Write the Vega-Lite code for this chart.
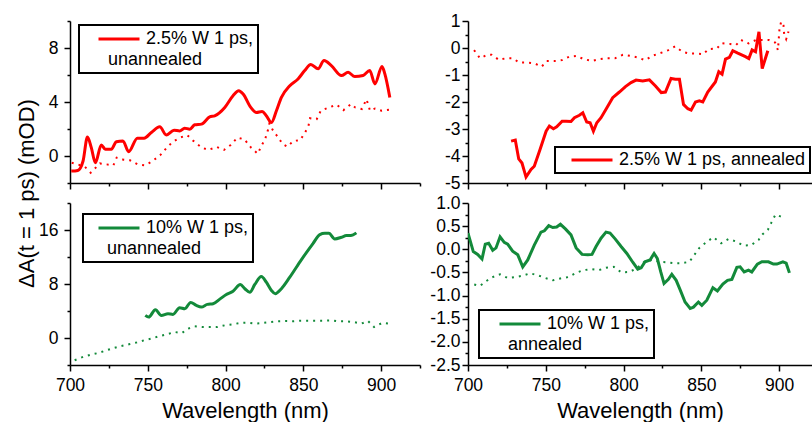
{
"$schema": "https://vega.github.io/schema/vega-lite/v6.json",
"padding": {"left": 15, "top": 12, "right": 0, "bottom": 0},
"columns": 2,
"spacing": {"row": 20, "column": 48},
"bounds": "flush",
"config": {
"view": {"stroke": null},
"font": "Liberation Sans",
"axis": {"domainColor": "black", "domainWidth": 1.5, "tickColor": "black", "tickWidth": 1.5, "labelColor": "black", "labelFontSize": 17.5, "labelFont": "Liberation Sans", "grid": false, "titleColor": "black", "titleFontWeight": "normal", "titleFontSize": 22, "titleFont": "Liberation Sans", "labelOverlap": false, "labelFlush": false, "labelBound": false},
"legend": {"orient": "none", "padding": 4, "strokeColor": "black", "strokeWidth": 2, "fillColor": "white", "labelFontSize": 18, "labelColor": "black", "labelFont": "Liberation Sans", "symbolType": "stroke", "symbolSize": 1681, "symbolStrokeWidth": 3, "clipHeight": 20, "labelLimit": 400, "titleOrient": "bottom", "titleAnchor": "start", "titleFontSize": 18, "titleFontWeight": "normal", "titleColor": "black", "titleFont": "Liberation Sans", "titlePadding": 2, "titleLimit": 400}
},
"resolve": {"scale": {"color": "independent"}, "legend": {"color": "independent"}},
"datasets": {
"tl_solid": [
{"wl":700.8,"v":-1.12,"s":"2.5% W 1 ps,"},{"wl":705,"v":-1.07,"s":"2.5% W 1 ps,"},{"wl":708.4,"v":-0.37,"s":"2.5% W 1 ps,"},{"wl":711.2,"v":1.41,"s":"2.5% W 1 ps,"},{"wl":713.7,"v":0.62,"s":"2.5% W 1 ps,"},{"wl":716.3,"v":-0.5,"s":"2.5% W 1 ps,"},{"wl":720.1,"v":0.82,"s":"2.5% W 1 ps,"},{"wl":722.7,"v":0.5,"s":"2.5% W 1 ps,"},{"wl":726.6,"v":0.5,"s":"2.5% W 1 ps,"},{"wl":729.8,"v":1.06,"s":"2.5% W 1 ps,"},{"wl":734,"v":1.12,"s":"2.5% W 1 ps,"},{"wl":737.7,"v":0.32,"s":"2.5% W 1 ps,"},{"wl":743.3,"v":1.32,"s":"2.5% W 1 ps,"},{"wl":747.6,"v":1.32,"s":"2.5% W 1 ps,"},{"wl":752.3,"v":1.74,"s":"2.5% W 1 ps,"},{"wl":757.7,"v":2.16,"s":"2.5% W 1 ps,"},{"wl":761.9,"v":1.56,"s":"2.5% W 1 ps,"},{"wl":766.9,"v":1.91,"s":"2.5% W 1 ps,"},{"wl":770.5,"v":1.86,"s":"2.5% W 1 ps,"},{"wl":773.7,"v":2.06,"s":"2.5% W 1 ps,"},{"wl":777,"v":1.99,"s":"2.5% W 1 ps,"},{"wl":780.2,"v":2.31,"s":"2.5% W 1 ps,"},{"wl":784.5,"v":2.36,"s":"2.5% W 1 ps,"},{"wl":789.8,"v":2.9,"s":"2.5% W 1 ps,"},{"wl":793,"v":2.98,"s":"2.5% W 1 ps,"},{"wl":799.5,"v":3.6,"s":"2.5% W 1 ps,"},{"wl":804.8,"v":4.47,"s":"2.5% W 1 ps,"},{"wl":808.5,"v":4.84,"s":"2.5% W 1 ps,"},{"wl":811.3,"v":4.59,"s":"2.5% W 1 ps,"},{"wl":816.2,"v":3.6,"s":"2.5% W 1 ps,"},{"wl":819.8,"v":3.23,"s":"2.5% W 1 ps,"},{"wl":823.5,"v":3.3,"s":"2.5% W 1 ps,"},{"wl":826.2,"v":2.98,"s":"2.5% W 1 ps,"},{"wl":829.5,"v":2.48,"s":"2.5% W 1 ps,"},{"wl":832.7,"v":3.35,"s":"2.5% W 1 ps,"},{"wl":835.9,"v":4.34,"s":"2.5% W 1 ps,"},{"wl":841.3,"v":5.21,"s":"2.5% W 1 ps,"},{"wl":846.6,"v":5.71,"s":"2.5% W 1 ps,"},{"wl":850.9,"v":6.33,"s":"2.5% W 1 ps,"},{"wl":854.8,"v":6.78,"s":"2.5% W 1 ps,"},{"wl":859.5,"v":6.46,"s":"2.5% W 1 ps,"},{"wl":863.3,"v":7.07,"s":"2.5% W 1 ps,"},{"wl":868,"v":6.7,"s":"2.5% W 1 ps,"},{"wl":874.5,"v":5.96,"s":"2.5% W 1 ps,"},{"wl":878.8,"v":6.2,"s":"2.5% W 1 ps,"},{"wl":883.1,"v":5.88,"s":"2.5% W 1 ps,"},{"wl":888.4,"v":5.96,"s":"2.5% W 1 ps,"},{"wl":892.7,"v":6.33,"s":"2.5% W 1 ps,"},{"wl":896,"v":5.34,"s":"2.5% W 1 ps,"},{"wl":900.6,"v":6.63,"s":"2.5% W 1 ps,"},{"wl":902.4,"v":6.08,"s":"2.5% W 1 ps,"},{"wl":905.6,"v":4.34,"s":"2.5% W 1 ps,"}
],
"tl_dot": [
{"wl":701.1,"v":-0.5},{"wl":705,"v":-0.62},{"wl":709.6,"v":-0.8},{"wl":713.3,"v":-1.24},{"wl":719.3,"v":-0.55},{"wl":723.6,"v":-0.62},{"wl":727.9,"v":-0.69},{"wl":730,"v":-0.12},{"wl":734.3,"v":-0.27},{"wl":738.6,"v":-0.32},{"wl":743.5,"v":-0.62},{"wl":748.2,"v":-0.69},{"wl":752.5,"v":-0.42},{"wl":757.9,"v":0.05},{"wl":762.2,"v":0.62},{"wl":766,"v":1.04},{"wl":770.7,"v":1.36},{"wl":775.4,"v":1.54},{"wl":779.3,"v":1.12},{"wl":784.7,"v":0.62},{"wl":788.9,"v":0.45},{"wl":794.3,"v":0.67},{"wl":799,"v":0.45},{"wl":803.3,"v":0.82},{"wl":807.6,"v":1.36},{"wl":812.1,"v":1.24},{"wl":816.4,"v":0.62},{"wl":820.7,"v":0.17},{"wl":822.8,"v":0.69},{"wl":825.4,"v":1.24},{"wl":827.1,"v":1.86},{"wl":828.2,"v":2.41},{"wl":830.4,"v":1.91},{"wl":833.9,"v":1.36},{"wl":836.8,"v":0.87},{"wl":839.7,"v":0.69},{"wl":843.6,"v":1.12},{"wl":847.9,"v":1.17},{"wl":851.1,"v":1.74},{"wl":853.3,"v":2.23},{"wl":854.3,"v":2.8},{"wl":858.6,"v":2.73},{"wl":861.2,"v":3.35},{"wl":866.6,"v":3.6},{"wl":871.5,"v":3.8},{"wl":875.8,"v":3.4},{"wl":880.7,"v":3.85},{"wl":883.3,"v":3.6},{"wl":887.6,"v":3.48},{"wl":890.6,"v":4.2},{"wl":892.9,"v":3.35},{"wl":896.1,"v":3.52},{"wl":900.4,"v":3.35},{"wl":905.3,"v":3.43}
],
"tr_solid": [
{"wl":727.7,"v":-3.45,"s":"2.5% W 1 ps, annealed"},{"wl":730.4,"v":-3.41,"s":"2.5% W 1 ps, annealed"},{"wl":732.6,"v":-4.11,"s":"2.5% W 1 ps, annealed"},{"wl":734.7,"v":-4.26,"s":"2.5% W 1 ps, annealed"},{"wl":737.3,"v":-4.78,"s":"2.5% W 1 ps, annealed"},{"wl":740.5,"v":-4.5,"s":"2.5% W 1 ps, annealed"},{"wl":742.6,"v":-4.38,"s":"2.5% W 1 ps, annealed"},{"wl":746.3,"v":-3.76,"s":"2.5% W 1 ps, annealed"},{"wl":750.2,"v":-3.08,"s":"2.5% W 1 ps, annealed"},{"wl":752.3,"v":-2.89,"s":"2.5% W 1 ps, annealed"},{"wl":754.9,"v":-2.99,"s":"2.5% W 1 ps, annealed"},{"wl":757,"v":-2.92,"s":"2.5% W 1 ps, annealed"},{"wl":760.5,"v":-2.71,"s":"2.5% W 1 ps, annealed"},{"wl":763,"v":-2.71,"s":"2.5% W 1 ps, annealed"},{"wl":766.2,"v":-2.72,"s":"2.5% W 1 ps, annealed"},{"wl":768.4,"v":-2.58,"s":"2.5% W 1 ps, annealed"},{"wl":771.6,"v":-2.49,"s":"2.5% W 1 ps, annealed"},{"wl":773.8,"v":-2.4,"s":"2.5% W 1 ps, annealed"},{"wl":776.3,"v":-2.74,"s":"2.5% W 1 ps, annealed"},{"wl":778.5,"v":-2.77,"s":"2.5% W 1 ps, annealed"},{"wl":780.6,"v":-3.08,"s":"2.5% W 1 ps, annealed"},{"wl":782.8,"v":-2.77,"s":"2.5% W 1 ps, annealed"},{"wl":785.5,"v":-2.58,"s":"2.5% W 1 ps, annealed"},{"wl":788.7,"v":-2.27,"s":"2.5% W 1 ps, annealed"},{"wl":793,"v":-1.84,"s":"2.5% W 1 ps, annealed"},{"wl":797.3,"v":-1.63,"s":"2.5% W 1 ps, annealed"},{"wl":801.2,"v":-1.43,"s":"2.5% W 1 ps, annealed"},{"wl":804.8,"v":-1.28,"s":"2.5% W 1 ps, annealed"},{"wl":808,"v":-1.19,"s":"2.5% W 1 ps, annealed"},{"wl":812.3,"v":-1.22,"s":"2.5% W 1 ps, annealed"},{"wl":816.6,"v":-1.18,"s":"2.5% W 1 ps, annealed"},{"wl":820.5,"v":-1.41,"s":"2.5% W 1 ps, annealed"},{"wl":824.2,"v":-1.65,"s":"2.5% W 1 ps, annealed"},{"wl":826.9,"v":-1.63,"s":"2.5% W 1 ps, annealed"},{"wl":830.5,"v":-1.13,"s":"2.5% W 1 ps, annealed"},{"wl":833.3,"v":-1.16,"s":"2.5% W 1 ps, annealed"},{"wl":835.9,"v":-1.16,"s":"2.5% W 1 ps, annealed"},{"wl":838.5,"v":-2.09,"s":"2.5% W 1 ps, annealed"},{"wl":841.3,"v":-2.25,"s":"2.5% W 1 ps, annealed"},{"wl":843.4,"v":-2.3,"s":"2.5% W 1 ps, annealed"},{"wl":846.2,"v":-2.0,"s":"2.5% W 1 ps, annealed"},{"wl":848.7,"v":-1.96,"s":"2.5% W 1 ps, annealed"},{"wl":850.9,"v":-2.0,"s":"2.5% W 1 ps, annealed"},{"wl":854.1,"v":-1.63,"s":"2.5% W 1 ps, annealed"},{"wl":857.4,"v":-1.38,"s":"2.5% W 1 ps, annealed"},{"wl":859,"v":-1.26,"s":"2.5% W 1 ps, annealed"},{"wl":861.2,"v":-0.88,"s":"2.5% W 1 ps, annealed"},{"wl":863.3,"v":-0.97,"s":"2.5% W 1 ps, annealed"},{"wl":865.5,"v":-0.41,"s":"2.5% W 1 ps, annealed"},{"wl":868,"v":-0.35,"s":"2.5% W 1 ps, annealed"},{"wl":870.2,"v":-0.1,"s":"2.5% W 1 ps, annealed"},{"wl":873.4,"v":-0.19,"s":"2.5% W 1 ps, annealed"},{"wl":878.3,"v":-0.32,"s":"2.5% W 1 ps, annealed"},{"wl":880.5,"v":-0.39,"s":"2.5% W 1 ps, annealed"},{"wl":882.6,"v":-0.07,"s":"2.5% W 1 ps, annealed"},{"wl":884.8,"v":-0.14,"s":"2.5% W 1 ps, annealed"},{"wl":887,"v":0.6,"s":"2.5% W 1 ps, annealed"},{"wl":889.1,"v":-0.76,"s":"2.5% W 1 ps, annealed"},{"wl":892.7,"v":-0.1,"s":"2.5% W 1 ps, annealed"}
],
"tr_dot": [
{"wl":703.9,"v":-0.08},{"wl":707.7,"v":-0.38},{"wl":712.4,"v":-0.25},{"wl":715.2,"v":-0.25},{"wl":719.9,"v":-0.44},{"wl":724.4,"v":-0.38},{"wl":728.7,"v":-0.38},{"wl":733,"v":-0.54},{"wl":737.7,"v":-0.54},{"wl":742.4,"v":-0.56},{"wl":747.4,"v":-0.69},{"wl":750.6,"v":-0.48},{"wl":755.9,"v":-0.48},{"wl":760.3,"v":-0.45},{"wl":765.1,"v":-0.32},{"wl":769.9,"v":-0.29},{"wl":774.2,"v":-0.41},{"wl":779.5,"v":-0.48},{"wl":784.9,"v":-0.41},{"wl":789.2,"v":-0.38},{"wl":794.5,"v":-0.38},{"wl":799.5,"v":-0.25},{"wl":804.2,"v":-0.29},{"wl":808.9,"v":-0.35},{"wl":813.8,"v":-0.45},{"wl":818.5,"v":-0.29},{"wl":823.5,"v":-0.19},{"wl":828.8,"v":-0.08},{"wl":833.1,"v":0.06},{"wl":837.8,"v":-0.14},{"wl":842.1,"v":-0.2},{"wl":846.4,"v":-0.2},{"wl":851.3,"v":-0.23},{"wl":854.5,"v":-0.04},{"wl":859.9,"v":-0.02},{"wl":863.1,"v":0.18},{"wl":868.5,"v":0.15},{"wl":872.3,"v":0.11},{"wl":875.4,"v":0.3},{"wl":880.3,"v":0.17},{"wl":885.2,"v":0.3},{"wl":888.9,"v":0.3},{"wl":893.2,"v":0.3},{"wl":897.4,"v":0.2},{"wl":899.2,"v":-0.08},{"wl":900.2,"v":0.7},{"wl":901.3,"v":0.98},{"wl":902.8,"v":0.83},{"wl":903.2,"v":0.52},{"wl":904.5,"v":0.33},{"wl":906,"v":0.61}
],
"bl_solid": [
{"wl":748.4,"v":3.35,"s":"10% W 1 ps,"},{"wl":750.6,"v":3.1,"s":"10% W 1 ps,"},{"wl":754.9,"v":4.19,"s":"10% W 1 ps,"},{"wl":758.7,"v":3.35,"s":"10% W 1 ps,"},{"wl":763,"v":3.6,"s":"10% W 1 ps,"},{"wl":766.2,"v":3.5,"s":"10% W 1 ps,"},{"wl":770.5,"v":4.49,"s":"10% W 1 ps,"},{"wl":773.8,"v":4.34,"s":"10% W 1 ps,"},{"wl":777.6,"v":5.27,"s":"10% W 1 ps,"},{"wl":781.2,"v":4.83,"s":"10% W 1 ps,"},{"wl":784.4,"v":4.58,"s":"10% W 1 ps,"},{"wl":788.3,"v":4.98,"s":"10% W 1 ps,"},{"wl":792,"v":5.08,"s":"10% W 1 ps,"},{"wl":796.3,"v":5.76,"s":"10% W 1 ps,"},{"wl":800.5,"v":6.45,"s":"10% W 1 ps,"},{"wl":804.8,"v":6.94,"s":"10% W 1 ps,"},{"wl":809.5,"v":7.93,"s":"10% W 1 ps,"},{"wl":812.4,"v":7.3,"s":"10% W 1 ps,"},{"wl":815.6,"v":6.79,"s":"10% W 1 ps,"},{"wl":818.8,"v":7.93,"s":"10% W 1 ps,"},{"wl":823,"v":9.11,"s":"10% W 1 ps,"},{"wl":826.2,"v":8.27,"s":"10% W 1 ps,"},{"wl":829.5,"v":7.05,"s":"10% W 1 ps,"},{"wl":832,"v":6.56,"s":"10% W 1 ps,"},{"wl":835.9,"v":7.3,"s":"10% W 1 ps,"},{"wl":841.3,"v":9.01,"s":"10% W 1 ps,"},{"wl":848.7,"v":11.58,"s":"10% W 1 ps,"},{"wl":856.3,"v":14.03,"s":"10% W 1 ps,"},{"wl":860.6,"v":15.32,"s":"10% W 1 ps,"},{"wl":863.8,"v":15.51,"s":"10% W 1 ps,"},{"wl":866.4,"v":15.51,"s":"10% W 1 ps,"},{"wl":870.2,"v":14.68,"s":"10% W 1 ps,"},{"wl":874.5,"v":14.92,"s":"10% W 1 ps,"},{"wl":877.7,"v":15.17,"s":"10% W 1 ps,"},{"wl":880.5,"v":15.17,"s":"10% W 1 ps,"},{"wl":884.1,"v":15.57,"s":"10% W 1 ps,"}
],
"bl_dot": [
{"wl":703,"v":-3.29},{"wl":708.4,"v":-2.8},{"wl":713.7,"v":-2.45},{"wl":718.5,"v":-2.21},{"wl":723.4,"v":-1.82},{"wl":728.3,"v":-1.48},{"wl":733,"v":-1.18},{"wl":737.9,"v":-0.93},{"wl":742.6,"v":-0.68},{"wl":747.6,"v":-0.34},{"wl":752.3,"v":-0.09},{"wl":757,"v":0.25},{"wl":762.4,"v":0.55},{"wl":767.3,"v":0.89},{"wl":772,"v":0.74},{"wl":775.9,"v":1.39},{"wl":780.2,"v":1.73},{"wl":785.1,"v":1.62},{"wl":789.8,"v":1.62},{"wl":794.5,"v":1.62},{"wl":799.5,"v":1.88},{"wl":804.4,"v":2.02},{"wl":809.1,"v":2.22},{"wl":814.5,"v":2.27},{"wl":819.2,"v":2.13},{"wl":824.1,"v":2.22},{"wl":828.8,"v":2.36},{"wl":833.8,"v":2.47},{"wl":838.5,"v":2.51},{"wl":843.4,"v":2.47},{"wl":848.4,"v":2.57},{"wl":853.1,"v":2.57},{"wl":858,"v":2.57},{"wl":862.7,"v":2.57},{"wl":867.7,"v":2.61},{"wl":872.3,"v":2.47},{"wl":877.7,"v":2.47},{"wl":882.6,"v":2.36},{"wl":887.3,"v":2.13},{"wl":891.6,"v":2.51},{"wl":895.5,"v":1.62},{"wl":900.6,"v":2.22},{"wl":904.9,"v":2.13}
],
"br_solid": [
{"wl":700,"v":0.35,"s":"10% W 1 ps,"},{"wl":703.4,"v":-0.05,"s":"10% W 1 ps,"},{"wl":706.2,"v":-0.11,"s":"10% W 1 ps,"},{"wl":709,"v":-0.21,"s":"10% W 1 ps,"},{"wl":711.1,"v":0.11,"s":"10% W 1 ps,"},{"wl":713.3,"v":0.13,"s":"10% W 1 ps,"},{"wl":715.9,"v":-0.02,"s":"10% W 1 ps,"},{"wl":718,"v":0.03,"s":"10% W 1 ps,"},{"wl":720.6,"v":0.27,"s":"10% W 1 ps,"},{"wl":723.3,"v":0.15,"s":"10% W 1 ps,"},{"wl":725.5,"v":0.11,"s":"10% W 1 ps,"},{"wl":728.7,"v":-0.04,"s":"10% W 1 ps,"},{"wl":732,"v":-0.12,"s":"10% W 1 ps,"},{"wl":735.2,"v":-0.38,"s":"10% W 1 ps,"},{"wl":738.4,"v":-0.23,"s":"10% W 1 ps,"},{"wl":742.6,"v":0.09,"s":"10% W 1 ps,"},{"wl":746.9,"v":0.37,"s":"10% W 1 ps,"},{"wl":749.1,"v":0.4,"s":"10% W 1 ps,"},{"wl":751.9,"v":0.51,"s":"10% W 1 ps,"},{"wl":754.5,"v":0.47,"s":"10% W 1 ps,"},{"wl":757,"v":0.48,"s":"10% W 1 ps,"},{"wl":759.4,"v":0.54,"s":"10% W 1 ps,"},{"wl":762.6,"v":0.44,"s":"10% W 1 ps,"},{"wl":766.2,"v":0.31,"s":"10% W 1 ps,"},{"wl":769.5,"v":0.03,"s":"10% W 1 ps,"},{"wl":773.3,"v":-0.11,"s":"10% W 1 ps,"},{"wl":777,"v":-0.12,"s":"10% W 1 ps,"},{"wl":779.7,"v":-0.11,"s":"10% W 1 ps,"},{"wl":782.3,"v":0.06,"s":"10% W 1 ps,"},{"wl":785.5,"v":0.24,"s":"10% W 1 ps,"},{"wl":788.7,"v":0.37,"s":"10% W 1 ps,"},{"wl":791.3,"v":0.35,"s":"10% W 1 ps,"},{"wl":794.7,"v":0.22,"s":"10% W 1 ps,"},{"wl":798.4,"v":0.06,"s":"10% W 1 ps,"},{"wl":802.1,"v":-0.09,"s":"10% W 1 ps,"},{"wl":805.9,"v":-0.28,"s":"10% W 1 ps,"},{"wl":809.1,"v":-0.43,"s":"10% W 1 ps,"},{"wl":811.3,"v":-0.4,"s":"10% W 1 ps,"},{"wl":813.8,"v":-0.27,"s":"10% W 1 ps,"},{"wl":817,"v":-0.23,"s":"10% W 1 ps,"},{"wl":819.6,"v":-0.09,"s":"10% W 1 ps,"},{"wl":821.7,"v":-0.2,"s":"10% W 1 ps,"},{"wl":823.9,"v":-0.49,"s":"10% W 1 ps,"},{"wl":826,"v":-0.74,"s":"10% W 1 ps,"},{"wl":828.8,"v":-0.65,"s":"10% W 1 ps,"},{"wl":831,"v":-0.54,"s":"10% W 1 ps,"},{"wl":833.8,"v":-0.67,"s":"10% W 1 ps,"},{"wl":836.3,"v":-0.87,"s":"10% W 1 ps,"},{"wl":839.5,"v":-1.14,"s":"10% W 1 ps,"},{"wl":842.8,"v":-1.28,"s":"10% W 1 ps,"},{"wl":844.9,"v":-1.25,"s":"10% W 1 ps,"},{"wl":848.1,"v":-1.14,"s":"10% W 1 ps,"},{"wl":850.3,"v":-1.21,"s":"10% W 1 ps,"},{"wl":853.5,"v":-1.1,"s":"10% W 1 ps,"},{"wl":857.4,"v":-0.83,"s":"10% W 1 ps,"},{"wl":860.3,"v":-0.9,"s":"10% W 1 ps,"},{"wl":863.8,"v":-0.75,"s":"10% W 1 ps,"},{"wl":866.8,"v":-0.67,"s":"10% W 1 ps,"},{"wl":869.6,"v":-0.65,"s":"10% W 1 ps,"},{"wl":872.8,"v":-0.39,"s":"10% W 1 ps,"},{"wl":874.9,"v":-0.38,"s":"10% W 1 ps,"},{"wl":877.5,"v":-0.49,"s":"10% W 1 ps,"},{"wl":880.3,"v":-0.45,"s":"10% W 1 ps,"},{"wl":882.4,"v":-0.49,"s":"10% W 1 ps,"},{"wl":886,"v":-0.32,"s":"10% W 1 ps,"},{"wl":888.9,"v":-0.27,"s":"10% W 1 ps,"},{"wl":893.1,"v":-0.27,"s":"10% W 1 ps,"},{"wl":896.3,"v":-0.32,"s":"10% W 1 ps,"},{"wl":898.5,"v":-0.32,"s":"10% W 1 ps,"},{"wl":902.4,"v":-0.27,"s":"10% W 1 ps,"},{"wl":904.5,"v":-0.3,"s":"10% W 1 ps,"},{"wl":906.6,"v":-0.51,"s":"10% W 1 ps,"}
],
"br_dot": [
{"wl":704,"v":-0.76},{"wl":707.7,"v":-0.79},{"wl":711.6,"v":-0.69},{"wl":715.9,"v":-0.6},{"wl":720.6,"v":-0.54},{"wl":725.5,"v":-0.62},{"wl":730.4,"v":-0.6},{"wl":735.2,"v":-0.57},{"wl":739.9,"v":-0.52},{"wl":744.8,"v":-0.56},{"wl":749.7,"v":-0.62},{"wl":754.5,"v":-0.67},{"wl":759.4,"v":-0.63},{"wl":764.5,"v":-0.6},{"wl":769.5,"v":-0.51},{"wl":774.2,"v":-0.45},{"wl":779.1,"v":-0.43},{"wl":784.1,"v":-0.45},{"wl":788.7,"v":-0.4},{"wl":793.7,"v":-0.38},{"wl":798.6,"v":-0.5},{"wl":803.7,"v":-0.49},{"wl":808.5,"v":-0.41},{"wl":813.4,"v":-0.27},{"wl":818.1,"v":-0.23},{"wl":822.8,"v":-0.27},{"wl":827.8,"v":-0.28},{"wl":832.7,"v":-0.3},{"wl":837.6,"v":-0.3},{"wl":842.3,"v":-0.27},{"wl":845.5,"v":-0.12},{"wl":848.7,"v":0.03},{"wl":853,"v":0.15},{"wl":857.7,"v":0.26},{"wl":862.7,"v":0.13},{"wl":867.4,"v":0.22},{"wl":872.3,"v":0.17},{"wl":877,"v":0.08},{"wl":882,"v":0.09},{"wl":886.7,"v":0.2},{"wl":889.5,"v":0.33},{"wl":892.7,"v":0.42},{"wl":894.9,"v":0.57},{"wl":897.6,"v":0.75},{"wl":900.8,"v":0.71},{"wl":904,"v":0.67}
]
},
"concat": [
{
"width": 350, "height": 162,
"encoding": {
"x": {"field": "wl", "type": "quantitative", "scale": {"domain": [700, 925], "nice": false, "zero": false}, "axis": {"values": [700,725,750,775,800,825,850,875,900,925], "labels": false, "title": null, "tickSize": {"condition": {"test": "datum.value % 50 === 0", "value": 6}, "value": 3}}},
"y": {"field": "v", "type": "quantitative", "scale": {"domain": [-2, 10], "nice": false, "zero": false}, "axis": {"values": [-2,0,2,4,6,8,10], "labelExpr": "datum.value % 4 === 0 ? datum.label : ''", "labelPadding": 6, "tickSize": {"condition": {"test": "datum.value % 4 === 0", "value": 6}, "value": 3}, "title": "ΔA(t = 1 ps) (mOD)", "titleX": -37, "titleY": 172, "titleBaseline": "alphabetic"}}
},
"layer": [
{"data": {"name": "tl_dot"}, "mark": {"type": "line", "color": "#ff0000", "strokeWidth": 2, "strokeDash": [2, 5], "clip": true}},
{"data": {"name": "tl_solid"}, "mark": {"type": "line", "strokeWidth": 3, "interpolate": "monotone", "clip": true},
 "encoding": {"color": {"field": "s", "type": "nominal", "scale": {"range": ["#ff0000"]}, "legend": {"legendX": 9, "legendY": 4, "symbolOffset": 14, "labelOffset": 5, "title": "\u200b\u00a0\u00a0\u00a0\u00a0\u00a0unannealed", "labelExpr": "datum.label + '\u00a0\u00a0'"}}}}
]
},
{
"width": 344, "height": 162,
"encoding": {
"x": {"field": "wl", "type": "quantitative", "scale": {"domain": [700, 921.1], "nice": false, "zero": false}, "axis": {"values": [700,725,750,775,800,825,850,875,900], "labels": false, "title": null, "tickSize": {"condition": {"test": "datum.value % 50 === 0", "value": 6}, "value": 3}}},
"y": {"field": "v", "type": "quantitative", "scale": {"domain": [-5, 1], "nice": false, "zero": false}, "axis": {"values": [-5,-4.5,-4,-3.5,-3,-2.5,-2,-1.5,-1,-0.5,0,0.5,1], "format": ".0f", "labelExpr": "datum.value % 1 === 0 ? replace(datum.label, '\u2212', '-') : ''", "labelPadding": 2, "tickSize": {"condition": {"test": "datum.value % 1 === 0", "value": 6}, "value": 3}, "title": null}}
},
"layer": [
{"data": {"name": "tr_dot"}, "mark": {"type": "line", "color": "#ff0000", "strokeWidth": 2, "strokeDash": [2, 5], "clip": true}},
{"data": {"name": "tr_solid"}, "mark": {"type": "line", "strokeWidth": 3, "clip": true},
 "encoding": {"color": {"field": "s", "type": "nominal", "scale": {"range": ["#ff0000"]}, "legend": {"legendX": 87, "legendY": 126, "symbolOffset": 11, "labelOffset": 5, "title": null, "clipHeight": 18}}}}
]
},
{
"width": 350, "height": 162,
"encoding": {
"x": {"field": "wl", "type": "quantitative", "scale": {"domain": [700, 925], "nice": false, "zero": false}, "axis": {"values": [700,725,750,775,800,825,850,875,900,925], "labelExpr": "datum.value % 50 === 0 && datum.value <= 900 ? datum.label : ''", "labelPadding": 5, "titlePadding": 7, "title": "Wavelength (nm)", "tickSize": {"condition": {"test": "datum.value % 50 === 0", "value": 6}, "value": 3}}},
"y": {"field": "v", "type": "quantitative", "scale": {"domain": [-4, 20], "nice": false, "zero": false}, "axis": {"values": [-4,0,4,8,12,16,20], "labelExpr": "datum.value % 8 === 0 ? datum.label : ''", "labelPadding": 6, "tickSize": {"condition": {"test": "datum.value % 8 === 0", "value": 6}, "value": 3}, "title": null}}
},
"layer": [
{"data": {"name": "bl_dot"}, "mark": {"type": "line", "color": "#138a3a", "strokeWidth": 2, "strokeDash": [2, 5], "clip": true}},
{"data": {"name": "bl_solid"}, "mark": {"type": "line", "strokeWidth": 3, "interpolate": "monotone", "clip": true},
 "encoding": {"color": {"field": "s", "type": "nominal", "scale": {"range": ["#138a3a"]}, "legend": {"legendX": 13, "legendY": 11, "symbolOffset": 10, "labelOffset": 5, "title": "\u200b\u00a0\u00a0\u00a0\u00a0unannealed", "labelExpr": "datum.label + '\u00a0\u00a0'"}}}}
]
},
{
"width": 344, "height": 162,
"encoding": {
"x": {"field": "wl", "type": "quantitative", "scale": {"domain": [700, 921.1], "nice": false, "zero": false}, "axis": {"values": [700,725,750,775,800,825,850,875,900], "labelExpr": "datum.value % 50 === 0 ? datum.label : ''", "labelPadding": 5, "titlePadding": 7, "title": "Wavelength (nm)", "tickSize": {"condition": {"test": "datum.value % 50 === 0", "value": 6}, "value": 3}}},
"y": {"field": "v", "type": "quantitative", "scale": {"domain": [-2.5, 1], "nice": false, "zero": false}, "axis": {"values": [-2.5,-2.25,-2,-1.75,-1.5,-1.25,-1,-0.75,-0.5,-0.25,0,0.25,0.5,0.75,1], "format": ".1f", "labelExpr": "abs(datum.value*2 - round(datum.value*2)) < 0.001 ? replace(datum.label, '\u2212', '-') : ''", "labelPadding": 2, "tickSize": {"condition": {"test": "abs(datum.value*2 - round(datum.value*2)) < 0.001", "value": 6}, "value": 3}, "title": null}}
},
"layer": [
{"data": {"name": "br_dot"}, "mark": {"type": "line", "color": "#138a3a", "strokeWidth": 2, "strokeDash": [2, 5], "clip": true}},
{"data": {"name": "br_solid"}, "mark": {"type": "line", "strokeWidth": 3, "clip": true},
 "encoding": {"color": {"field": "s", "type": "nominal", "scale": {"range": ["#138a3a"]}, "legend": {"legendX": 11, "legendY": 107, "symbolOffset": 15, "labelOffset": 5, "title": "\u200b\u00a0\u00a0\u00a0\u00a0\u00a0annealed", "labelExpr": "datum.label + '\u00a0\u00a0\u00a0'"}}}}
]
}
]
}
